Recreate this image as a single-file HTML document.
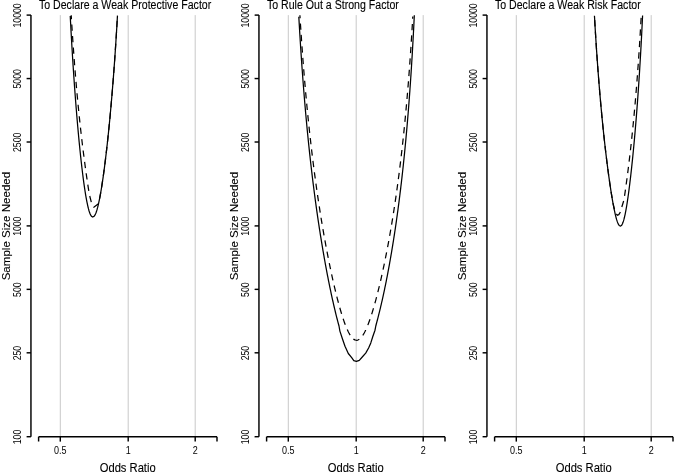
<!DOCTYPE html>
<html><head><meta charset="utf-8"><title>Sample Size Needed</title>
<style>
html,body{margin:0;padding:0;background:#fff;}
svg{display:block}
text{font-family:"Liberation Sans",Arial,sans-serif;fill:#000;stroke:#000;stroke-width:0.1px}
.ax{stroke:#000;stroke-width:1.45;fill:none}
.gr{stroke:#c9c9c9;stroke-width:1;fill:none}
.cv{stroke:#000;stroke-width:1.25;fill:none;stroke-linejoin:round}
.ds{stroke-dasharray:6.3 5.2}
.tk{font-size:9px;stroke:none}
.lb{font-size:11.2px}
.tt{font-size:10.6px}
</style></head><body>
<svg width="675" height="473" viewBox="0 0 675 473">
<rect width="675" height="473" fill="#fff"/>

<g transform="translate(0,0)">
<line class="gr" x1="60.3" y1="15.1" x2="60.3" y2="436.7"/>
<line class="gr" x1="128.2" y1="15.1" x2="128.2" y2="436.7"/>
<line class="gr" x1="195.2" y1="15.1" x2="195.2" y2="436.7"/>
<path class="ax" d="M30.95,15.1 V436.7"/>
<path class="ax" d="M26.6,15.10 H30.95"/>
<text class="tk" text-anchor="middle" transform="translate(21.0,15.40) rotate(-90) scale(0.965,1.18)">10000</text>
<path class="ax" d="M26.6,78.56 H30.95"/>
<text class="tk" text-anchor="middle" transform="translate(21.0,78.86) rotate(-90) scale(0.965,1.18)">5000</text>
<path class="ax" d="M26.6,142.01 H30.95"/>
<text class="tk" text-anchor="middle" transform="translate(21.0,142.31) rotate(-90) scale(0.965,1.18)">2500</text>
<path class="ax" d="M26.6,225.90 H30.95"/>
<text class="tk" text-anchor="middle" transform="translate(21.0,226.20) rotate(-90) scale(0.965,1.18)">1000</text>
<path class="ax" d="M26.6,289.36 H30.95"/>
<text class="tk" text-anchor="middle" transform="translate(21.0,289.66) rotate(-90) scale(0.965,1.18)">500</text>
<path class="ax" d="M26.6,352.81 H30.95"/>
<text class="tk" text-anchor="middle" transform="translate(21.0,353.11) rotate(-90) scale(0.965,1.18)">250</text>
<path class="ax" d="M26.6,436.70 H30.95"/>
<text class="tk" text-anchor="middle" transform="translate(21.0,437.00) rotate(-90) scale(0.965,1.18)">100</text>
<path class="ax" d="M38.6,436.7 H217"/>
<path class="ax" d="M60.3,436.7 V441.6"/>
<text class="tk" text-anchor="middle" transform="translate(60.3,453.6) scale(1,1.18)">0.5</text>
<path class="ax" d="M128.2,436.7 V441.6"/>
<text class="tk" text-anchor="middle" transform="translate(128.2,453.6) scale(1,1.18)">1</text>
<path class="ax" d="M195.2,436.7 V441.6"/>
<text class="tk" text-anchor="middle" transform="translate(195.2,453.6) scale(1,1.18)">2</text>
<path class="ax" d="M38.6,436.7 V441.6 M217,436.7 V441.6"/>
<text class="lb" text-anchor="middle" transform="translate(127.7,471.7) scale(1,1.07)">Odds Ratio</text>
<text class="lb" text-anchor="middle" transform="translate(10.3,226.1) rotate(-90) scale(1,1.03)" textLength="108.5" lengthAdjust="spacingAndGlyphs">Sample Size Needed</text>
<text class="tt" transform="translate(38.9,8.6) scale(1,1.12)">To Declare a Weak Protective Factor</text>
</g>
<g transform="translate(228,0)">
<line class="gr" x1="60.3" y1="15.1" x2="60.3" y2="436.7"/>
<line class="gr" x1="128.2" y1="15.1" x2="128.2" y2="436.7"/>
<line class="gr" x1="195.2" y1="15.1" x2="195.2" y2="436.7"/>
<path class="ax" d="M30.95,15.1 V436.7"/>
<path class="ax" d="M26.6,15.10 H30.95"/>
<text class="tk" text-anchor="middle" transform="translate(21.0,15.40) rotate(-90) scale(0.965,1.18)">10000</text>
<path class="ax" d="M26.6,78.56 H30.95"/>
<text class="tk" text-anchor="middle" transform="translate(21.0,78.86) rotate(-90) scale(0.965,1.18)">5000</text>
<path class="ax" d="M26.6,142.01 H30.95"/>
<text class="tk" text-anchor="middle" transform="translate(21.0,142.31) rotate(-90) scale(0.965,1.18)">2500</text>
<path class="ax" d="M26.6,225.90 H30.95"/>
<text class="tk" text-anchor="middle" transform="translate(21.0,226.20) rotate(-90) scale(0.965,1.18)">1000</text>
<path class="ax" d="M26.6,289.36 H30.95"/>
<text class="tk" text-anchor="middle" transform="translate(21.0,289.66) rotate(-90) scale(0.965,1.18)">500</text>
<path class="ax" d="M26.6,352.81 H30.95"/>
<text class="tk" text-anchor="middle" transform="translate(21.0,353.11) rotate(-90) scale(0.965,1.18)">250</text>
<path class="ax" d="M26.6,436.70 H30.95"/>
<text class="tk" text-anchor="middle" transform="translate(21.0,437.00) rotate(-90) scale(0.965,1.18)">100</text>
<path class="ax" d="M38.6,436.7 H217"/>
<path class="ax" d="M60.3,436.7 V441.6"/>
<text class="tk" text-anchor="middle" transform="translate(60.3,453.6) scale(1,1.18)">0.5</text>
<path class="ax" d="M128.2,436.7 V441.6"/>
<text class="tk" text-anchor="middle" transform="translate(128.2,453.6) scale(1,1.18)">1</text>
<path class="ax" d="M195.2,436.7 V441.6"/>
<text class="tk" text-anchor="middle" transform="translate(195.2,453.6) scale(1,1.18)">2</text>
<path class="ax" d="M38.6,436.7 V441.6 M217,436.7 V441.6"/>
<text class="lb" text-anchor="middle" transform="translate(127.7,471.7) scale(1,1.07)">Odds Ratio</text>
<text class="lb" text-anchor="middle" transform="translate(10.3,226.1) rotate(-90) scale(1,1.03)" textLength="108.5" lengthAdjust="spacingAndGlyphs">Sample Size Needed</text>
<text class="tt" transform="translate(38.9,8.6) scale(1,1.12)">To Rule Out a Strong Factor</text>
</g>
<g transform="translate(456,0)">
<line class="gr" x1="60.3" y1="15.1" x2="60.3" y2="436.7"/>
<line class="gr" x1="128.2" y1="15.1" x2="128.2" y2="436.7"/>
<line class="gr" x1="195.2" y1="15.1" x2="195.2" y2="436.7"/>
<path class="ax" d="M30.95,15.1 V436.7"/>
<path class="ax" d="M26.6,15.10 H30.95"/>
<text class="tk" text-anchor="middle" transform="translate(21.0,15.40) rotate(-90) scale(0.965,1.18)">10000</text>
<path class="ax" d="M26.6,78.56 H30.95"/>
<text class="tk" text-anchor="middle" transform="translate(21.0,78.86) rotate(-90) scale(0.965,1.18)">5000</text>
<path class="ax" d="M26.6,142.01 H30.95"/>
<text class="tk" text-anchor="middle" transform="translate(21.0,142.31) rotate(-90) scale(0.965,1.18)">2500</text>
<path class="ax" d="M26.6,225.90 H30.95"/>
<text class="tk" text-anchor="middle" transform="translate(21.0,226.20) rotate(-90) scale(0.965,1.18)">1000</text>
<path class="ax" d="M26.6,289.36 H30.95"/>
<text class="tk" text-anchor="middle" transform="translate(21.0,289.66) rotate(-90) scale(0.965,1.18)">500</text>
<path class="ax" d="M26.6,352.81 H30.95"/>
<text class="tk" text-anchor="middle" transform="translate(21.0,353.11) rotate(-90) scale(0.965,1.18)">250</text>
<path class="ax" d="M26.6,436.70 H30.95"/>
<text class="tk" text-anchor="middle" transform="translate(21.0,437.00) rotate(-90) scale(0.965,1.18)">100</text>
<path class="ax" d="M38.6,436.7 H217"/>
<path class="ax" d="M60.3,436.7 V441.6"/>
<text class="tk" text-anchor="middle" transform="translate(60.3,453.6) scale(1,1.18)">0.5</text>
<path class="ax" d="M128.2,436.7 V441.6"/>
<text class="tk" text-anchor="middle" transform="translate(128.2,453.6) scale(1,1.18)">1</text>
<path class="ax" d="M195.2,436.7 V441.6"/>
<text class="tk" text-anchor="middle" transform="translate(195.2,453.6) scale(1,1.18)">2</text>
<path class="ax" d="M38.6,436.7 V441.6 M217,436.7 V441.6"/>
<text class="lb" text-anchor="middle" transform="translate(127.7,471.7) scale(1,1.07)">Odds Ratio</text>
<text class="lb" text-anchor="middle" transform="translate(10.3,226.1) rotate(-90) scale(1,1.03)" textLength="108.5" lengthAdjust="spacingAndGlyphs">Sample Size Needed</text>
<text class="tt" transform="translate(38.9,8.6) scale(1,1.12)">To Declare a Weak Risk Factor</text>
</g>
<path class="cv" d="M70.24,16.08 L70.35,18.16 L70.45,20.22 L70.56,22.25 L70.67,24.26 L70.77,26.26 L70.88,28.23 L70.99,30.19 L71.09,32.13 L71.20,34.05 L71.31,35.95 L71.41,37.84 L71.52,39.71 L71.63,41.56 L71.73,43.39 L71.84,45.21 L71.95,47.01 L72.05,48.80 L72.16,50.57 L72.27,52.33 L72.37,54.07 L72.48,55.79 L72.59,57.51 L72.69,59.20 L72.80,60.89 L72.91,62.56 L73.01,64.22 L73.12,65.86 L73.23,67.49 L73.33,69.11 L73.44,70.71 L73.55,72.30 L73.65,73.88 L73.76,75.45 L73.86,77.01 L73.97,78.55 L74.08,80.08 L74.18,81.61 L74.29,83.12 L74.40,84.61 L74.56,86.84 L74.72,89.04 L74.88,91.22 L75.04,93.38 L75.20,95.51 L75.36,97.62 L75.52,99.70 L75.68,101.77 L75.84,103.81 L76.00,105.83 L76.16,107.83 L76.32,109.81 L76.48,111.78 L76.64,113.72 L76.80,115.64 L76.96,117.54 L77.12,119.42 L77.28,121.28 L77.44,123.12 L77.60,124.95 L77.76,126.76 L77.92,128.54 L78.08,130.32 L78.24,132.07 L78.39,133.80 L78.55,135.52 L78.71,137.22 L78.87,138.90 L79.03,140.57 L79.19,142.22 L79.35,143.85 L79.51,145.47 L79.67,147.06 L79.83,148.65 L79.99,150.21 L80.15,151.76 L80.31,153.29 L80.47,154.81 L80.63,156.31 L80.85,158.28 L81.06,160.23 L81.27,162.14 L81.49,164.03 L81.70,165.89 L81.91,167.72 L82.13,169.51 L82.34,171.29 L82.55,173.03 L82.77,174.74 L82.98,176.42 L83.19,178.07 L83.40,179.70 L83.62,181.29 L83.83,182.85 L84.04,184.38 L84.26,185.88 L84.52,187.71 L84.79,189.50 L85.06,191.23 L85.32,192.91 L85.59,194.55 L85.86,196.13 L86.12,197.65 L86.44,199.42 L86.76,201.10 L87.08,202.71 L87.40,204.24 L87.77,205.92 L88.15,207.49 L88.52,208.94 L88.95,210.46 L89.43,211.98 L89.96,213.45 L90.60,214.88 L91.40,216.16 L92.62,217.03 L94.01,216.42 L94.92,215.15 L95.61,213.72 L96.20,212.22 L96.67,210.79 L97.15,209.20 L97.58,207.65 L97.95,206.18 L98.33,204.62 L98.70,202.97 L99.02,201.49 L99.34,199.94 L99.66,198.33 L99.98,196.66 L100.30,194.92 L100.57,193.43 L100.83,191.90 L101.10,190.33 L101.36,188.73 L101.63,187.08 L101.90,185.40 L102.16,183.67 L102.43,181.91 L102.70,180.12 L102.96,178.29 L103.18,176.80 L103.39,175.28 L103.60,173.75 L103.82,172.19 L104.03,170.61 L104.24,169.00 L104.46,167.38 L104.67,165.73 L104.88,164.06 L105.10,162.37 L105.31,160.65 L105.52,158.92 L105.73,157.16 L105.95,155.37 L106.16,153.57 L106.37,151.74 L106.59,149.90 L106.80,148.02 L107.01,146.13 L107.23,144.21 L107.44,142.27 L107.65,140.31 L107.87,138.32 L108.03,136.81 L108.19,135.29 L108.35,133.76 L108.51,132.21 L108.67,130.65 L108.83,129.07 L108.99,127.48 L109.15,125.88 L109.31,124.26 L109.47,122.63 L109.63,120.98 L109.79,119.32 L109.95,117.64 L110.11,115.94 L110.26,114.23 L110.42,112.51 L110.58,110.77 L110.74,109.01 L110.90,107.24 L111.06,105.44 L111.22,103.64 L111.38,101.81 L111.54,99.97 L111.70,98.11 L111.86,96.23 L112.02,94.33 L112.18,92.42 L112.34,90.48 L112.50,88.53 L112.66,86.55 L112.82,84.56 L112.98,82.54 L113.14,80.51 L113.30,78.45 L113.46,76.37 L113.62,74.27 L113.78,72.15 L113.94,70.00 L114.10,67.83 L114.26,65.64 L114.42,63.42 L114.58,61.17 L114.69,59.66 L114.79,58.14 L114.90,56.61 L115.01,55.06 L115.11,53.51 L115.22,51.94 L115.33,50.35 L115.43,48.76 L115.54,47.15 L115.65,45.53 L115.75,43.89 L115.86,42.25 L115.97,40.58 L116.07,38.91 L116.18,37.22 L116.29,35.51 L116.39,33.79 L116.50,32.06 L116.61,30.31 L116.71,28.54 L116.82,26.76 L116.93,24.96 L117.03,23.15 L117.14,21.32 L117.25,19.47 L117.35,17.60 L117.46,15.72 L117.46,15.72"/>
<path class="cv ds" stroke-dashoffset="2.24" d="M71.21,15.27 L71.32,17.01 L71.42,18.73 L71.52,20.44 L71.63,22.13 L71.73,23.81 L71.84,25.46 L71.94,27.11 L72.04,28.74 L72.15,30.35 L72.25,31.96 L72.36,33.54 L72.46,35.12 L72.56,36.68 L72.67,38.23 L72.77,39.76 L72.88,41.28 L72.98,42.79 L73.09,44.29 L73.22,46.14 L73.35,47.98 L73.48,49.79 L73.61,51.59 L73.74,53.37 L73.87,55.14 L74.00,56.89 L74.13,58.62 L74.26,60.33 L74.39,62.03 L74.52,63.72 L74.65,65.38 L74.78,67.04 L74.91,68.67 L75.04,70.30 L75.17,71.91 L75.30,73.50 L75.43,75.09 L75.56,76.65 L75.69,78.21 L75.82,79.75 L75.95,81.28 L76.08,82.79 L76.21,84.30 L76.36,86.09 L76.52,87.86 L76.68,89.61 L76.83,91.35 L76.99,93.07 L77.14,94.78 L77.30,96.46 L77.46,98.14 L77.61,99.80 L77.77,101.44 L77.93,103.07 L78.08,104.68 L78.24,106.29 L78.39,107.87 L78.55,109.45 L78.71,111.01 L78.86,112.55 L79.02,114.09 L79.17,115.61 L79.33,117.11 L79.49,118.61 L79.67,120.34 L79.85,122.05 L80.03,123.75 L80.22,125.44 L80.40,127.10 L80.58,128.75 L80.76,130.39 L80.94,132.01 L81.13,133.62 L81.31,135.22 L81.49,136.80 L81.67,138.37 L81.85,139.92 L82.04,141.46 L82.22,142.99 L82.40,144.50 L82.58,146.01 L82.77,147.50 L82.97,149.19 L83.18,150.86 L83.39,152.52 L83.60,154.16 L83.81,155.79 L84.01,157.40 L84.22,159.00 L84.43,160.59 L84.64,162.16 L84.85,163.72 L85.06,165.27 L85.26,166.80 L85.47,168.32 L85.68,169.83 L85.89,171.33 L86.12,172.99 L86.36,174.65 L86.59,176.29 L86.82,177.91 L87.06,179.52 L87.29,181.12 L87.53,182.70 L87.76,184.27 L88.00,185.82 L88.23,187.36 L88.46,188.89 L88.70,190.41 L88.93,191.91 L89.17,193.40 L89.32,194.39 L91.30,202.10 L93.80,207.20 L98.40,203.80 L99.60,198.63 L99.89,197.15 L100.17,195.62 L100.46,194.03 L100.72,192.53 L100.99,190.99 L101.25,189.42 L101.52,187.80 L101.76,186.28 L102.00,184.74 L102.24,183.16 L102.48,181.56 L102.70,180.07 L102.92,178.56 L103.14,177.02 L103.37,175.46 L103.59,173.88 L103.81,172.27 L104.03,170.64 L104.22,169.15 L104.42,167.64 L104.62,166.11 L104.82,164.56 L105.02,163.00 L105.21,161.41 L105.41,159.81 L105.61,158.18 L105.81,156.54 L106.01,154.88 L106.18,153.38 L106.36,151.87 L106.54,150.35 L106.71,148.81 L106.89,147.25 L107.06,145.68 L107.24,144.09 L107.42,142.49 L107.59,140.87 L107.77,139.23 L107.94,137.58 L108.12,135.92 L108.30,134.23 L108.47,132.53 L108.63,131.03 L108.78,129.51 L108.94,127.98 L109.09,126.44 L109.24,124.89 L109.40,123.32 L109.55,121.73 L109.71,120.14 L109.86,118.53 L110.01,116.90 L110.17,115.26 L110.32,113.61 L110.48,111.94 L110.63,110.26 L110.79,108.56 L110.94,106.85 L111.09,105.12 L111.23,103.62 L111.36,102.11 L111.49,100.59 L111.62,99.06 L111.75,97.52 L111.89,95.96 L112.02,94.40 L112.15,92.82 L112.28,91.22 L112.41,89.61 L112.55,87.99 L112.68,86.36 L112.81,84.71 L112.94,83.05 L113.08,81.37 L113.21,79.68 L113.34,77.98 L113.47,76.26 L113.60,74.52 L113.74,72.77 L113.87,71.00 L114.00,69.22 L114.11,67.72 L114.22,66.21 L114.33,64.69 L114.44,63.16 L114.55,61.62 L114.66,60.06 L114.77,58.49 L114.88,56.91 L114.99,55.32 L115.10,53.71 L115.21,52.09 L115.32,50.46 L115.43,48.81 L115.54,47.15 L115.65,45.47 L115.76,43.78 L115.87,42.08 L115.98,40.36 L116.09,38.63 L116.20,36.88 L116.31,35.11 L116.42,33.33 L116.53,31.54 L116.64,29.72 L116.75,27.90 L116.86,26.05 L116.97,24.18 L117.06,22.68 L117.15,21.17 L117.24,19.64 L117.32,18.10 L117.41,16.55 L117.48,15.38"/>
<path class="cv" d="M298.82,16.66 L298.92,18.62 L299.03,20.57 L299.14,22.49 L299.25,24.40 L299.36,26.29 L299.47,28.16 L299.58,30.01 L299.69,31.84 L299.80,33.66 L299.91,35.46 L300.02,37.25 L300.13,39.02 L300.23,40.77 L300.34,42.51 L300.45,44.24 L300.56,45.95 L300.67,47.64 L300.78,49.32 L300.89,50.99 L301.00,52.64 L301.11,54.28 L301.22,55.90 L301.33,57.52 L301.44,59.12 L301.54,60.70 L301.65,62.28 L301.76,63.84 L301.87,65.39 L301.98,66.93 L302.09,68.46 L302.20,69.97 L302.31,71.47 L302.53,74.45 L302.75,77.38 L302.96,80.27 L303.18,83.12 L303.40,85.93 L303.62,88.70 L303.84,91.43 L304.06,94.13 L304.27,96.80 L304.49,99.42 L304.71,102.02 L304.93,104.58 L305.15,107.11 L305.37,109.61 L305.58,112.08 L305.80,114.52 L306.02,116.94 L306.24,119.32 L306.46,121.68 L306.68,124.01 L306.89,126.31 L307.11,128.59 L307.33,130.85 L307.55,133.08 L307.77,135.29 L307.99,137.47 L308.20,139.63 L308.42,141.77 L308.64,143.89 L308.86,145.99 L309.08,148.06 L309.30,150.12 L309.51,152.15 L309.73,154.17 L309.95,156.17 L310.17,158.14 L310.39,160.10 L310.61,162.05 L310.82,163.97 L311.04,165.88 L311.26,167.77 L311.48,169.64 L311.70,171.50 L311.92,173.34 L312.13,175.16 L312.35,176.97 L312.57,178.77 L312.79,180.55 L313.01,182.31 L313.23,184.06 L313.44,185.80 L313.66,187.52 L313.88,189.23 L314.10,190.93 L314.32,192.61 L314.54,194.28 L314.76,195.93 L314.97,197.57 L315.19,199.21 L315.41,200.82 L315.63,202.43 L315.85,204.02 L316.07,205.61 L316.28,207.18 L316.50,208.74 L316.72,210.29 L316.94,211.82 L317.16,213.35 L317.38,214.87 L317.59,216.37 L317.81,217.87 L318.03,219.35 L318.36,221.56 L318.69,223.74 L319.01,225.91 L319.34,228.05 L319.67,230.17 L320.00,232.27 L320.32,234.35 L320.65,236.41 L320.98,238.45 L321.31,240.47 L321.63,242.47 L321.96,244.45 L322.29,246.41 L322.62,248.36 L322.94,250.29 L323.27,252.20 L323.60,254.09 L323.93,255.97 L324.25,257.83 L324.58,259.67 L324.91,261.49 L325.24,263.30 L325.56,265.10 L325.89,266.87 L326.22,268.64 L326.55,270.38 L326.87,272.11 L327.20,273.83 L327.53,275.53 L327.86,277.21 L328.18,278.89 L328.51,280.54 L328.84,282.18 L329.17,283.81 L329.49,285.42 L329.82,287.02 L330.15,288.60 L330.48,290.17 L330.80,291.73 L331.13,293.27 L331.46,294.79 L331.79,296.31 L332.11,297.81 L332.44,299.29 L332.77,300.76 L333.21,302.70 L333.64,304.61 L334.08,306.50 L334.52,308.37 L334.95,310.21 L335.39,312.02 L335.83,313.81 L336.26,315.57 L336.70,317.31 L337.14,319.02 L337.57,320.70 L338.01,322.36 L338.45,323.99 L339.00,326.00 L339.90,331.10 L342.40,338.70 L345.00,346.30 L348.30,353.50 L351.70,357.70 L353.80,360.70 L356.40,361.40 L359.30,360.30 L362.70,356.50 L365.70,353.10 L368.60,348.00 L370.80,342.90 L372.90,336.20 L375.00,330.20 L375.80,326.00 L376.44,323.48 L376.88,321.87 L377.31,320.24 L377.75,318.58 L378.19,316.89 L378.62,315.18 L379.06,313.44 L379.50,311.68 L379.93,309.89 L380.37,308.08 L380.81,306.23 L381.24,304.37 L381.68,302.47 L382.12,300.55 L382.55,298.61 L382.88,297.13 L383.21,295.64 L383.53,294.13 L383.86,292.61 L384.19,291.07 L384.52,289.52 L384.84,287.95 L385.17,286.37 L385.50,284.77 L385.83,283.15 L386.16,281.52 L386.48,279.87 L386.81,278.21 L387.14,276.52 L387.47,274.83 L387.79,273.11 L388.12,271.38 L388.45,269.63 L388.78,267.86 L389.10,266.07 L389.43,264.27 L389.76,262.45 L390.09,260.60 L390.41,258.74 L390.74,256.86 L391.07,254.96 L391.40,253.04 L391.72,251.10 L392.05,249.14 L392.38,247.16 L392.71,245.16 L393.03,243.13 L393.36,241.08 L393.69,239.01 L394.02,236.92 L394.34,234.80 L394.67,232.66 L395.00,230.49 L395.33,228.30 L395.65,226.08 L395.87,224.58 L396.09,223.08 L396.31,221.56 L396.53,220.03 L396.74,218.49 L396.96,216.93 L397.18,215.37 L397.40,213.78 L397.62,212.19 L397.84,210.58 L398.06,208.96 L398.27,207.32 L398.49,205.67 L398.71,204.01 L398.93,202.33 L399.15,200.64 L399.37,198.93 L399.58,197.20 L399.80,195.46 L400.02,193.70 L400.24,191.93 L400.46,190.14 L400.68,188.33 L400.89,186.51 L401.11,184.67 L401.33,182.81 L401.55,180.93 L401.77,179.03 L401.99,177.12 L402.20,175.18 L402.42,173.23 L402.64,171.25 L402.86,169.25 L403.08,167.24 L403.30,165.20 L403.51,163.14 L403.73,161.05 L403.95,158.94 L404.17,156.81 L404.39,154.66 L404.61,152.48 L404.82,150.27 L405.04,148.04 L405.26,145.79 L405.48,143.50 L405.70,141.19 L405.92,138.85 L406.13,136.48 L406.35,134.08 L406.57,131.65 L406.79,129.18 L407.01,126.69 L407.23,124.16 L407.44,121.60 L407.66,119.00 L407.88,116.36 L408.10,113.69 L408.32,110.98 L408.54,108.23 L408.75,105.44 L408.97,102.61 L409.19,99.74 L409.41,96.82 L409.63,93.85 L409.74,92.35 L409.85,90.84 L409.96,89.31 L410.06,87.78 L410.17,86.23 L410.28,84.67 L410.39,83.09 L410.50,81.50 L410.61,79.90 L410.72,78.28 L410.83,76.65 L410.94,75.01 L411.05,73.35 L411.16,71.67 L411.27,69.98 L411.37,68.28 L411.48,66.56 L411.59,64.82 L411.70,63.07 L411.81,61.30 L411.92,59.52 L412.03,57.72 L412.14,55.90 L412.25,54.06 L412.36,52.20 L412.47,50.33 L412.58,48.43 L412.68,46.52 L412.79,44.59 L412.90,42.64 L413.01,40.66 L413.12,38.67 L413.23,36.65 L413.34,34.61 L413.45,32.55 L413.56,30.47 L413.67,28.36 L413.78,26.23 L413.89,24.08 L413.99,21.90 L414.10,19.69 L414.21,17.46 L414.32,15.20 L414.32,15.20"/>
<path class="cv ds" stroke-dashoffset="3.34" d="M299.91,15.28 L300.02,17.06 L300.13,18.82 L300.23,20.57 L300.34,22.30 L300.45,24.02 L300.56,25.73 L300.67,27.42 L300.78,29.09 L300.89,30.75 L301.00,32.40 L301.11,34.03 L301.22,35.65 L301.33,37.26 L301.44,38.85 L301.54,40.44 L301.65,42.01 L301.76,43.56 L301.87,45.11 L301.98,46.64 L302.09,48.16 L302.20,49.67 L302.31,51.17 L302.53,54.14 L302.75,57.06 L302.96,59.94 L303.18,62.77 L303.40,65.57 L303.62,68.33 L303.84,71.06 L304.06,73.75 L304.27,76.40 L304.49,79.02 L304.71,81.60 L304.93,84.15 L305.15,86.67 L305.37,89.16 L305.58,91.62 L305.80,94.05 L306.02,96.46 L306.24,98.83 L306.46,101.18 L306.68,103.50 L306.89,105.79 L307.11,108.06 L307.33,110.31 L307.55,112.53 L307.77,114.73 L307.99,116.90 L308.20,119.05 L308.42,121.18 L308.64,123.29 L308.86,125.37 L309.08,127.44 L309.30,129.49 L309.51,131.51 L309.73,133.52 L309.95,135.51 L310.17,137.47 L310.39,139.42 L310.61,141.36 L310.82,143.27 L311.04,145.17 L311.26,147.05 L311.48,148.91 L311.70,150.76 L311.92,152.59 L312.13,154.41 L312.35,156.21 L312.57,157.99 L312.79,159.76 L313.01,161.52 L313.23,163.26 L313.44,164.99 L313.66,166.70 L313.88,168.40 L314.10,170.09 L314.32,171.76 L314.54,173.42 L314.76,175.07 L314.97,176.70 L315.19,178.32 L315.41,179.93 L315.63,181.53 L315.85,183.12 L316.07,184.69 L316.28,186.25 L316.50,187.80 L316.72,189.35 L316.94,190.87 L317.16,192.39 L317.38,193.90 L317.59,195.40 L317.81,196.89 L318.14,199.10 L318.47,201.29 L318.79,203.45 L319.12,205.60 L319.45,207.72 L319.78,209.82 L320.10,211.91 L320.43,213.97 L320.76,216.01 L321.09,218.04 L321.41,220.04 L321.74,222.03 L322.07,223.99 L322.40,225.94 L322.72,227.87 L323.05,229.79 L323.38,231.68 L323.71,233.56 L324.03,235.43 L324.36,237.27 L324.69,239.10 L325.02,240.92 L325.34,242.71 L325.67,244.50 L326.00,246.26 L326.33,248.02 L326.66,249.75 L326.98,251.47 L327.31,253.18 L327.64,254.87 L327.97,256.55 L328.29,258.21 L328.62,259.86 L328.95,261.49 L329.28,263.11 L329.60,264.72 L329.93,266.31 L330.26,267.89 L330.59,269.45 L330.91,271.01 L331.24,272.54 L331.57,274.07 L331.90,275.57 L332.22,277.07 L332.55,278.55 L332.88,280.02 L333.31,281.96 L333.75,283.87 L334.19,285.76 L334.62,287.62 L335.06,289.46 L335.50,291.28 L335.93,293.07 L336.37,294.83 L336.81,296.57 L337.24,298.29 L337.68,299.98 L338.12,301.64 L338.56,303.27 L338.99,304.88 L339.43,306.46 L339.87,308.02 L340.30,309.54 L340.74,311.04 L341.18,312.51 L341.61,313.94 L342.16,315.70 L342.70,317.40 L343.25,319.06 L343.80,320.67 L344.34,322.22 L344.89,323.72 L345.43,325.16 L346.09,326.82 L346.74,328.39 L347.40,329.87 L348.05,331.27 L348.82,332.78 L349.58,334.16 L350.46,335.58 L351.33,336.82 L352.31,337.99 L353.51,339.10 L354.82,339.89 L356.35,340.26 L357.88,340.03 L359.30,339.29 L360.50,338.28 L361.59,337.05 L362.57,335.72 L363.45,334.35 L364.21,333.01 L364.98,331.56 L365.74,329.98 L366.39,328.54 L367.05,327.02 L367.70,325.42 L368.36,323.75 L368.91,322.30 L369.45,320.79 L370.00,319.24 L370.54,317.64 L371.09,316.00 L371.63,314.31 L372.18,312.57 L372.73,310.79 L373.16,309.34 L373.60,307.86 L374.04,306.36 L374.47,304.82 L374.91,303.26 L375.35,301.68 L375.78,300.07 L376.22,298.44 L376.66,296.78 L377.09,295.09 L377.53,293.38 L377.97,291.65 L378.40,289.89 L378.84,288.11 L379.28,286.31 L379.71,284.48 L380.15,282.62 L380.59,280.74 L381.02,278.84 L381.46,276.91 L381.90,274.96 L382.22,273.48 L382.55,271.98 L382.88,270.48 L383.21,268.95 L383.53,267.41 L383.86,265.86 L384.19,264.30 L384.52,262.71 L384.84,261.12 L385.17,259.51 L385.50,257.88 L385.83,256.24 L386.16,254.58 L386.48,252.91 L386.81,251.22 L387.14,249.51 L387.47,247.79 L387.79,246.05 L388.12,244.30 L388.45,242.53 L388.78,240.74 L389.10,238.93 L389.43,237.11 L389.76,235.26 L390.09,233.40 L390.41,231.52 L390.74,229.63 L391.07,227.71 L391.40,225.77 L391.72,223.81 L392.05,221.83 L392.38,219.83 L392.71,217.81 L393.03,215.77 L393.36,213.71 L393.69,211.62 L394.02,209.51 L394.34,207.38 L394.67,205.22 L395.00,203.04 L395.33,200.83 L395.54,199.35 L395.76,197.85 L395.98,196.34 L396.20,194.82 L396.42,193.29 L396.64,191.74 L396.85,190.19 L397.07,188.62 L397.29,187.03 L397.51,185.44 L397.73,183.83 L397.95,182.20 L398.16,180.57 L398.38,178.91 L398.60,177.25 L398.82,175.57 L399.04,173.87 L399.26,172.17 L399.47,170.44 L399.69,168.70 L399.91,166.94 L400.13,165.17 L400.35,163.38 L400.57,161.58 L400.78,159.75 L401.00,157.91 L401.22,156.05 L401.44,154.18 L401.66,152.28 L401.88,150.37 L402.09,148.44 L402.31,146.48 L402.53,144.51 L402.75,142.52 L402.97,140.50 L403.19,138.47 L403.40,136.41 L403.62,134.33 L403.84,132.23 L404.06,130.10 L404.28,127.95 L404.50,125.78 L404.71,123.58 L404.93,121.36 L405.15,119.10 L405.37,116.83 L405.59,114.52 L405.81,112.19 L406.02,109.83 L406.24,107.43 L406.46,105.01 L406.68,102.56 L406.90,100.07 L407.12,97.56 L407.33,95.00 L407.55,92.42 L407.77,89.79 L407.99,87.14 L408.21,84.44 L408.43,81.70 L408.64,78.93 L408.86,76.11 L409.08,73.25 L409.30,70.35 L409.52,67.40 L409.74,64.40 L409.85,62.89 L409.96,61.36 L410.06,59.82 L410.17,58.27 L410.28,56.70 L410.39,55.12 L410.50,53.53 L410.61,51.93 L410.72,50.31 L410.83,48.67 L410.94,47.03 L411.05,45.36 L411.16,43.69 L411.27,41.99 L411.37,40.29 L411.48,38.56 L411.59,36.82 L411.70,35.07 L411.81,33.30 L411.92,31.51 L412.03,29.70 L412.14,27.88 L412.25,26.04 L412.36,24.18 L412.47,22.30 L412.58,20.41 L412.68,18.49 L412.79,16.56 L412.79,16.56"/>
<path class="cv" d="M594.45,15.70 L594.55,17.58 L594.66,19.43 L594.76,21.27 L594.87,23.09 L594.97,24.89 L595.08,26.67 L595.18,28.44 L595.29,30.19 L595.40,31.93 L595.50,33.64 L595.61,35.35 L595.71,37.03 L595.82,38.70 L595.92,40.36 L596.03,42.00 L596.13,43.63 L596.24,45.24 L596.34,46.84 L596.45,48.42 L596.55,49.99 L596.66,51.55 L596.76,53.10 L596.87,54.63 L596.97,56.15 L597.08,57.66 L597.23,59.89 L597.39,62.11 L597.55,64.29 L597.71,66.45 L597.86,68.58 L598.02,70.69 L598.18,72.78 L598.34,74.84 L598.50,76.88 L598.65,78.90 L598.81,80.90 L598.97,82.87 L599.13,84.82 L599.28,86.76 L599.44,88.67 L599.60,90.56 L599.76,92.44 L599.91,94.29 L600.07,96.13 L600.23,97.94 L600.39,99.74 L600.54,101.53 L600.70,103.29 L600.86,105.04 L601.02,106.77 L601.17,108.49 L601.33,110.19 L601.49,111.87 L601.65,113.54 L601.81,115.20 L601.96,116.83 L602.12,118.46 L602.28,120.07 L602.44,121.66 L602.59,123.25 L602.75,124.81 L602.91,126.37 L603.07,127.91 L603.22,129.44 L603.38,130.95 L603.54,132.45 L603.75,134.44 L603.96,136.40 L604.17,138.34 L604.38,140.25 L604.59,142.15 L604.80,144.03 L605.01,145.89 L605.22,147.72 L605.43,149.54 L605.64,151.34 L605.85,153.12 L606.06,154.88 L606.27,156.62 L606.48,158.35 L606.69,160.05 L606.90,161.74 L607.11,163.41 L607.32,165.07 L607.53,166.70 L607.74,168.32 L607.95,169.92 L608.16,171.50 L608.37,173.07 L608.58,174.62 L608.79,176.15 L609.00,177.67 L609.21,179.17 L609.48,181.02 L609.74,182.84 L610.00,184.64 L610.27,186.41 L610.53,188.15 L610.79,189.87 L611.05,191.56 L611.32,193.22 L611.58,194.85 L611.84,196.45 L612.10,198.03 L612.37,199.57 L612.63,201.08 L612.89,202.56 L613.21,204.30 L613.52,205.99 L613.84,207.62 L614.15,209.21 L614.47,210.74 L614.78,212.21 L615.15,213.86 L615.52,215.42 L615.89,216.90 L616.31,218.47 L616.73,219.92 L617.20,221.39 L617.73,222.81 L618.36,224.21 L619.20,225.51 L620.56,226.14 L621.72,225.16 L622.46,223.80 L623.03,222.34 L623.51,220.89 L623.93,219.42 L624.35,217.78 L624.71,216.20 L625.08,214.51 L625.40,212.96 L625.71,211.33 L626.03,209.61 L626.29,208.12 L626.55,206.58 L626.82,204.98 L627.08,203.34 L627.34,201.64 L627.60,199.89 L627.87,198.10 L628.13,196.26 L628.34,194.75 L628.55,193.22 L628.76,191.65 L628.97,190.06 L629.18,188.44 L629.39,186.79 L629.60,185.12 L629.81,183.42 L630.02,181.69 L630.23,179.93 L630.44,178.15 L630.65,176.34 L630.86,174.51 L631.07,172.64 L631.28,170.76 L631.49,168.84 L631.70,166.90 L631.91,164.94 L632.07,163.44 L632.23,161.93 L632.39,160.41 L632.54,158.87 L632.70,157.32 L632.86,155.75 L633.02,154.16 L633.17,152.56 L633.33,150.95 L633.49,149.31 L633.65,147.66 L633.80,146.00 L633.96,144.32 L634.12,142.62 L634.28,140.90 L634.44,139.17 L634.59,137.42 L634.75,135.65 L634.91,133.86 L635.07,132.06 L635.22,130.24 L635.38,128.39 L635.54,126.53 L635.70,124.65 L635.85,122.75 L636.01,120.83 L636.17,118.89 L636.33,116.93 L636.48,114.95 L636.64,112.94 L636.80,110.92 L636.96,108.87 L637.11,106.79 L637.27,104.70 L637.43,102.58 L637.59,100.44 L637.75,98.27 L637.90,96.07 L638.06,93.85 L638.22,91.61 L638.32,90.09 L638.43,88.57 L638.53,87.03 L638.64,85.48 L638.74,83.91 L638.85,82.34 L638.95,80.75 L639.06,79.14 L639.16,77.53 L639.27,75.89 L639.37,74.25 L639.48,72.59 L639.58,70.91 L639.69,69.22 L639.79,67.51 L639.90,65.79 L640.00,64.06 L640.11,62.30 L640.22,60.53 L640.32,58.75 L640.43,56.94 L640.53,55.12 L640.64,53.28 L640.74,51.42 L640.85,49.55 L640.95,47.65 L641.06,45.74 L641.16,43.80 L641.27,41.85 L641.37,39.87 L641.48,37.88 L641.58,35.86 L641.69,33.82 L641.79,31.76 L641.90,29.68 L642.00,27.57 L642.11,25.44 L642.21,23.28 L642.32,21.10 L642.42,18.89 L642.53,16.66 L642.58,15.53"/>
<path class="cv ds" stroke-dashoffset="9.00" d="M641.26,15.40 L641.16,17.17 L641.07,18.93 L640.97,20.67 L640.87,22.39 L640.78,24.10 L640.68,25.79 L640.58,27.47 L640.49,29.13 L640.39,30.77 L640.29,32.40 L640.20,34.02 L640.10,35.62 L640.00,37.21 L639.91,38.79 L639.81,40.35 L639.71,41.90 L639.62,43.43 L639.52,44.96 L639.42,46.47 L639.33,47.96 L639.20,49.82 L639.08,51.66 L638.96,53.47 L638.84,55.27 L638.72,57.06 L638.60,58.82 L638.48,60.57 L638.36,62.31 L638.24,64.02 L638.12,65.72 L637.99,67.41 L637.87,69.08 L637.75,70.73 L637.63,72.37 L637.51,73.99 L637.39,75.60 L637.27,77.20 L637.15,78.78 L637.03,80.35 L636.91,81.91 L636.79,83.45 L636.66,84.98 L636.54,86.50 L636.42,88.00 L636.28,89.79 L636.13,91.56 L635.99,93.32 L635.84,95.06 L635.70,96.78 L635.55,98.48 L635.41,100.18 L635.26,101.85 L635.12,103.51 L634.97,105.15 L634.83,106.78 L634.68,108.40 L634.54,110.00 L634.39,111.59 L634.25,113.16 L634.10,114.72 L633.96,116.27 L633.81,117.81 L633.67,119.33 L633.52,120.84 L633.38,122.33 L633.21,124.06 L633.04,125.78 L632.87,127.48 L632.70,129.16 L632.53,130.83 L632.36,132.48 L632.19,134.12 L632.02,135.74 L631.85,137.35 L631.68,138.95 L631.51,140.53 L631.34,142.10 L631.17,143.65 L631.01,145.19 L630.84,146.72 L630.67,148.24 L630.50,149.74 L630.33,151.23 L630.13,152.92 L629.94,154.60 L629.75,156.26 L629.55,157.90 L629.36,159.53 L629.17,161.14 L628.97,162.74 L628.78,164.33 L628.59,165.91 L628.39,167.47 L628.20,169.01 L628.01,170.55 L627.81,172.07 L627.62,173.58 L627.43,175.07 L627.21,176.74 L626.99,178.39 L626.77,180.03 L626.55,181.66 L626.34,183.27 L626.12,184.86 L625.90,186.45 L625.68,188.02 L625.47,189.57 L625.25,191.11 L625.03,192.64 L624.81,194.16 L624.60,195.66 L624.38,197.16 L624.14,198.80 L623.97,199.94 L621.80,207.00 L620.20,212.40 L618.80,214.60 L617.40,215.30 L615.20,212.50 L614.00,207.50 L613.00,203.16 L612.73,201.65 L612.46,200.11 L612.19,198.53 L611.92,196.92 L611.67,195.42 L611.42,193.89 L611.18,192.34 L610.93,190.76 L610.68,189.16 L610.43,187.53 L610.21,186.03 L609.98,184.51 L609.76,182.97 L609.53,181.41 L609.31,179.83 L609.08,178.23 L608.86,176.61 L608.63,174.97 L608.43,173.48 L608.23,171.97 L608.02,170.45 L607.82,168.91 L607.62,167.36 L607.42,165.79 L607.21,164.20 L607.01,162.60 L606.81,160.98 L606.60,159.35 L606.40,157.69 L606.20,156.03 L606.02,154.53 L605.84,153.02 L605.66,151.49 L605.48,149.95 L605.30,148.40 L605.12,146.83 L604.94,145.25 L604.76,143.65 L604.58,142.04 L604.40,140.42 L604.22,138.77 L604.04,137.12 L603.86,135.44 L603.68,133.75 L603.50,132.05 L603.34,130.54 L603.18,129.03 L603.02,127.49 L602.87,125.95 L602.71,124.39 L602.55,122.82 L602.39,121.24 L602.24,119.64 L602.08,118.02 L601.92,116.40 L601.76,114.75 L601.61,113.10 L601.45,111.42 L601.29,109.73 L601.13,108.03 L600.97,106.31 L600.82,104.57 L600.68,103.07 L600.55,101.56 L600.41,100.03 L600.28,98.49 L600.14,96.94 L600.01,95.37 L599.87,93.79 L599.74,92.20 L599.60,90.59 L599.47,88.97 L599.33,87.34 L599.20,85.69 L599.06,84.02 L598.93,82.34 L598.79,80.65 L598.66,78.93 L598.52,77.21 L598.39,75.46 L598.25,73.70 L598.12,71.92 L597.98,70.13 L597.87,68.62 L597.75,67.10 L597.64,65.56 L597.53,64.02 L597.42,62.46 L597.30,60.88 L597.19,59.30 L597.08,57.69 L596.97,56.08 L596.85,54.45 L596.74,52.81 L596.63,51.15 L596.52,49.47 L596.40,47.79 L596.29,46.08 L596.18,44.36 L596.07,42.62 L595.95,40.87 L595.84,39.10 L595.73,37.31 L595.62,35.51 L595.50,33.69 L595.39,31.85 L595.28,29.99 L595.19,28.49 L595.10,26.97 L595.01,25.45 L594.92,23.91 L594.83,22.36 L594.74,20.79 L594.65,19.21 L594.56,17.62 L594.47,16.02 L594.42,15.21"/>
</svg></body></html>
